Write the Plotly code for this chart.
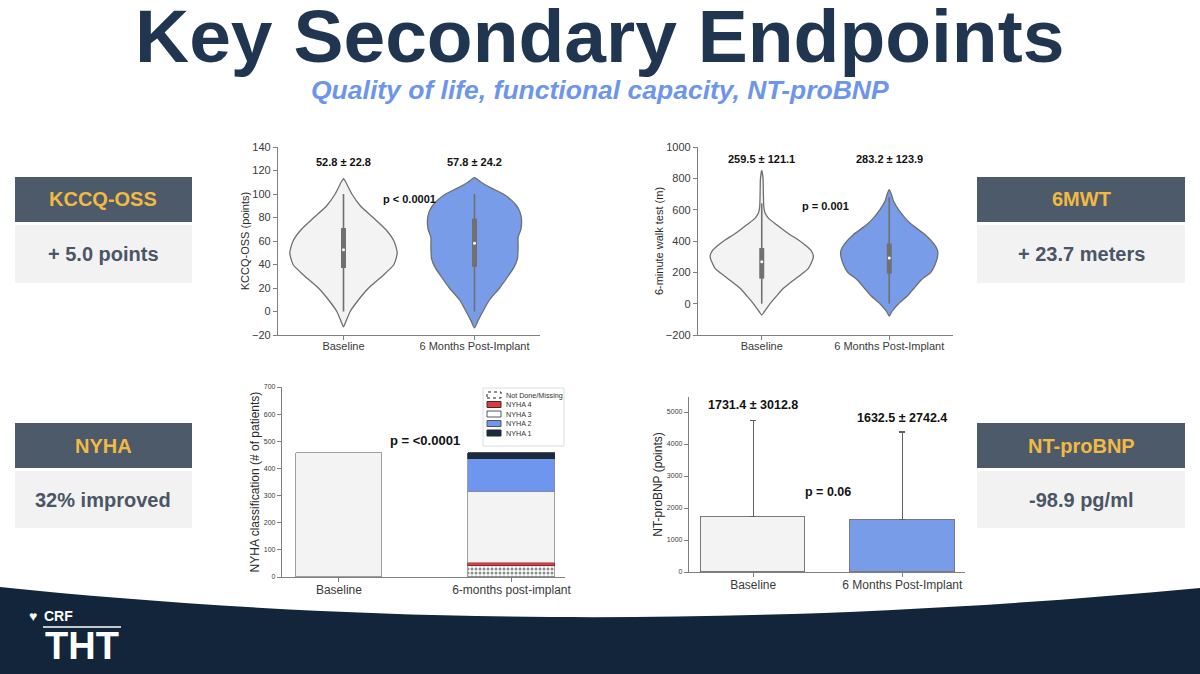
import plotly.graph_objects as go

W, H = 1200, 674
FONT = "Liberation Sans, Arial, sans-serif"

# ---------------- data ----------------
violin_labels = ["Baseline", "6 Months Post-Implant"]
nyha_labels = ["Baseline", "6-months post-implant"]
bnp_labels = ["Baseline", "6 Months Post-Implant"]

# KCCQ-OSS violin outlines (value, half-width as fraction of category spacing)
kccq_base_y = [-13, -10, 0, 10, 20, 30, 40, 50, 60, 70, 80, 90, 100, 110, 113]
kccq_base_hw = [0, .013, .051, .115, .192, .295, .385, .41, .385, .321, .226, .128, .064, .018, 0]
kccq_post_y = [-14, -8, 0, 10, 20, 30, 38, 45, 55, 63, 70, 78, 85, 90, 95, 100, 105, 110, 114]
kccq_post_hw = [0, .026, .064, .115, .192, .256, .303, .328, .333, .333, .354, .359, .346, .321, .28, .22, .13, .05, 0]
kccq_q1 = [37, 38]
kccq_med = [52.5, 58]
kccq_q3 = [71, 79]
kccq_lo = [0, 0]
kccq_hi = [100, 100]
kccq_stats = ["52.8 ± 22.8", "57.8 ± 24.2"]
kccq_p = "p < 0.0001"

# 6MWT violin outlines
smwt_base_y = [-73, -50, -20, 13, 50, 98, 141, 173, 225, 300, 340, 375, 410, 440, 470, 503, 546, 578, 620, 700, 800, 850]
smwt_base_hw = [0, .021, .047, .078, .117, .170, .235, .287, .366, .405, .386, .339, .282, .222, .170, .117, .052, .026, .016, .013, .010, 0]
smwt_post_y = [-80, -50, 0, 50, 100, 150, 200, 250, 300, 340, 380, 440, 503, 546, 600, 653, 700, 728]
smwt_post_hw = [0, .021, .073, .144, .196, .248, .326, .360, .379, .379, .352, .282, .178, .125, .073, .034, .016, 0]
smwt_q1 = [160, 192]
smwt_med = [268, 292]
smwt_q3 = [355, 384]
smwt_lo = [0, 0]
smwt_hi = [640, 680]
smwt_stats = ["259.5 ± 121.1", "283.2 ± 123.9"]
smwt_p = "p = 0.001"

# NYHA stacked counts
nyha_series = ["Not Done/Missing", "NYHA 4", "NYHA 3", "NYHA 2", "NYHA 1"]
nyha_missing = [None, 42]
nyha_4 = [None, 11]
nyha_3 = [457, 259]
nyha_2 = [None, 123]
nyha_1 = [None, 22]
nyha_p = "p = <0.0001"

# NT-proBNP
bnp_mean = [1731.4, 1632.5]
bnp_sd = [3012.8, 2742.4]
bnp_stats = ["1731.4 ± 3012.8", "1632.5 ± 2742.4"]
bnp_p = "p = 0.06"

# Side panels
panel_titles = ["KCCQ-OSS", "6MWT", "NYHA", "NT-proBNP"]
panel_values = ["+ 5.0 points", "+ 23.7 meters", "32% improved", "-98.9 pg/ml"]

# ---------------- style ----------------
GRAY_FILL = "#f3f3f3"
BLUE_FILL = "#789ce8"
OUTLINE = "#6f6f6f"
AXIS = "#808080"
TICKC = "#3a3a3a"
NAVY = "#1f3550"


def px(x):
    return x / W


def py(y):
    return 1 - y / H


fig = go.Figure()


def add_violin(xa, ya, pos, ys, hws, fill):
    xs = [pos + w for w in hws] + [pos - w for w in reversed(hws[:-1])]
    yy = list(ys) + list(reversed(ys[:-1]))
    fig.add_trace(go.Scatter(x=xs, y=yy, xaxis=xa, yaxis=ya, mode="lines", fill="toself",
                             fillcolor=fill, line=dict(color=OUTLINE, width=1.3, shape="spline", smoothing=0.6),
                             showlegend=False, hoverinfo="skip"))


def add_box(xa, ya, pos, q1, med, q3, lo, hi):
    fig.add_trace(go.Scatter(x=[pos, pos], y=[lo, hi], xaxis=xa, yaxis=ya, mode="lines",
                             line=dict(color="#707070", width=1.6), showlegend=False, hoverinfo="skip"))
    fig.add_trace(go.Scatter(x=[pos, pos], y=[q1, q3], xaxis=xa, yaxis=ya, mode="lines",
                             line=dict(color="#707070", width=5), showlegend=False, hoverinfo="skip"))
    fig.add_trace(go.Scatter(x=[pos], y=[med], xaxis=xa, yaxis=ya, mode="markers",
                             marker=dict(color="white", size=3), showlegend=False, hoverinfo="skip"))


# Chart 1: KCCQ
add_violin("x", "y", 0, kccq_base_y, kccq_base_hw, GRAY_FILL)
add_violin("x", "y", 1, kccq_post_y, kccq_post_hw, BLUE_FILL)
for i in range(2):
    add_box("x", "y", i, kccq_q1[i], kccq_med[i], kccq_q3[i], kccq_lo[i], kccq_hi[i])

# Chart 2: 6MWT
add_violin("x2", "y2", 0, smwt_base_y, smwt_base_hw, GRAY_FILL)
add_violin("x2", "y2", 1, smwt_post_y, smwt_post_hw, BLUE_FILL)
for i in range(2):
    add_box("x2", "y2", i, smwt_q1[i], smwt_med[i], smwt_q3[i], smwt_lo[i], smwt_hi[i])

# Chart 3: NYHA stacked bars
nyha_values = [nyha_missing, nyha_4, nyha_3, nyha_2, nyha_1]
nyha_colors = ["white", "#e0393e", GRAY_FILL, "#6f96ee", "#1b2a3d"]
nyha_edges = ["#8a8a8a", "#7a2a2a", "#8a8a8a", "#8a8a8a", "#1b2a3d"]
for name, vals, col, edge in zip(nyha_series, nyha_values, nyha_colors, nyha_edges):
    marker = dict(color=col, line=dict(color=edge, width=0.8))
    if name == "Not Done/Missing":
        marker["pattern"] = dict(shape=".", fgcolor="#1a1a1a", bgcolor="white", size=4, solidity=0.45)
    fig.add_trace(go.Bar(x=[0, 1], y=vals, name=name, xaxis="x3", yaxis="y3", width=0.5,
                         marker=marker, showlegend=False, hoverinfo="skip"))

# Chart 4: NT-proBNP bars
fig.add_trace(go.Bar(x=[0, 1], y=bnp_mean, xaxis="x4", yaxis="y4", width=0.7,
                     marker=dict(color=[GRAY_FILL, BLUE_FILL], line=dict(color="#7a7a7a", width=1.2)),
                     error_y=dict(type="data", symmetric=False, array=bnp_sd, arrayminus=[0, 0],
                                  color="#606060", thickness=1.2, width=3),
                     showlegend=False, hoverinfo="skip"))

# ---------------- axes ----------------
def xax(dom, rng, labels, size):
    return dict(domain=[px(dom[0]), px(dom[1])], range=rng, tickvals=[0, 1], ticktext=labels,
                showline=True, linecolor=AXIS, linewidth=1.3, ticks="outside", ticklen=4,
                tickcolor=AXIS, showgrid=False, zeroline=False, automargin=False,
                ticklabelstandoff=-3,
                tickfont=dict(family=FONT, size=size, color=TICKC), fixedrange=True)


def yax(dom, rng, dtick, title, tsize, ttsize, standoff):
    return dict(domain=[py(dom[0]), py(dom[1])], range=rng, dtick=dtick, tick0=0,
                showline=True, linecolor=AXIS, linewidth=1.3, ticks="outside", ticklen=4,
                tickcolor=AXIS, showgrid=False, zeroline=False, automargin=False,
                tickfont=dict(family=FONT, size=tsize, color=TICKC),
                title=dict(text=title, font=dict(family=FONT, size=ttsize, color="#2a2a2a"), standoff=standoff),
                fixedrange=True)


fig.update_layout(
    xaxis=xax((278, 540), [-0.5, 1.5], violin_labels, 11),
    yaxis=yax((335, 147), [-20, 140], 20, "KCCQ-OSS (points)", 11, 11, 0),
    xaxis2=dict(xax((698, 953), [-0.5, 1.5], violin_labels, 11), anchor="y2"),
    yaxis2=dict(yax((335, 147), [-200, 1000], 200, "6-minute walk test (m)", 11, 11, 0), anchor="x2"),
    xaxis3=dict(xax((282, 565), [-0.33, 1.31], nyha_labels, 12), anchor="y3"),
    yaxis3=dict(yax((577, 387), [0, 700], 100, "NYHA classification (# of patients)", 7, 12, 1), anchor="x3"),
    xaxis4=dict(xax((689, 965), [-0.43, 1.42], bnp_labels, 12), anchor="y4"),
    yaxis4=dict(yax((572, 397), [0, 5470], 1000, "NT-proBNP (points)", 7, 12, 1), anchor="x4"),
)

# ---------------- annotations ----------------
anns = []
shapes = []


def chart_text(xr, yr, x, y, text, size):
    anns.append(dict(xref=xr, yref=yr, x=x, y=y, text=text, showarrow=False,
                     font=dict(family=FONT, size=size, color="#111111", weight="bold")))


for i in range(2):
    chart_text("x", "y", i, 127, kccq_stats[i], 11)
    chart_text("x2", "y2", i, 925, smwt_stats[i], 11)
chart_text("x", "y", 0.5, 96, kccq_p, 11)
chart_text("x2", "y2", 0.5, 625, smwt_p, 11)
chart_text("x3", "y3", 0.5, 503, nyha_p, 13)
chart_text("x4", "y4", 0, 5220, bnp_stats[0], 12.5)
chart_text("x4", "y4", 1, 4814, bnp_stats[1], 12.5)
chart_text("x4", "y4", 0.5, 2500, bnp_p, 12.5)


def page_text(x, y, text, size, color, weight="bold", style="normal", xanchor="center"):
    anns.append(dict(xref="paper", yref="paper", x=px(x), y=py(y), text=text, showarrow=False,
                     xanchor=xanchor, yanchor="middle",
                     font=dict(family=FONT, size=size, color=color, weight=weight, style=style)))


def rect(x0, y0, x1, y1, fill, line=None, layer="below"):
    shapes.append(dict(type="rect", xref="paper", yref="paper", x0=px(x0), x1=px(x1),
                       y0=py(y1), y1=py(y0), fillcolor=fill,
                       line=line if line else dict(width=0), layer=layer))


page_text(599, 36, "Key Secondary Endpoints", 75, NAVY)
page_text(600, 90, "Quality of life, functional capacity, NT-proBNP", 26.5, "#6d95ea", style="italic")

# manual legend for NYHA chart
rect(483, 388, 564, 446, "white", dict(color="#dddddd", width=1), layer="above")
leg_y = [395, 404.5, 414, 423.5, 433]
leg_fill = ["white", "#e0393e", "white", "#6f96ee", "#1b2a3d"]
leg_line = [dict(color="#222222", width=1, dash="dot"), dict(color="#333333", width=1),
            dict(color="#555555", width=1), dict(color="#555555", width=1), dict(color="#1b2a3d", width=1)]
for name, yc, f, ln in zip(nyha_series, leg_y, leg_fill, leg_line):
    rect(487, yc - 3, 501, yc + 3, f, ln, layer="above")
    anns.append(dict(xref="paper", yref="paper", x=px(504), y=py(yc), text=name, showarrow=False,
                     xanchor="left", yanchor="middle",
                     font=dict(family=FONT, size=7.2, color="#333333")))

box_specs = [((15, 192), (177, 222), (225, 283)), ((977, 1185), (177, 222), (225, 283)),
             ((15, 192), (423, 468), (471, 528)), ((977, 1185), (423, 468), (471, 528))]
for (xs, hy, vy), title, val in zip(box_specs, panel_titles, panel_values):
    rect(xs[0], hy[0], xs[1], hy[1], "#4c5a6a")
    rect(xs[0], vy[0], xs[1], vy[1], "#f2f2f2")
    cx = (xs[0] + xs[1]) / 2
    page_text(cx, (hy[0] + hy[1]) / 2, title, 20, "#f2b943")
    page_text(cx, (vy[0] + vy[1]) / 2, val, 20, "#4a5566")


# footer band
def P(x, y):
    return f"{px(x):.5f},{py(y):.5f}"


footer = (f"M {P(0, 587)} C {P(300, 618)} {P(700, 635)} {P(1200, 588)} "
          f"L {P(1200, 674)} L {P(0, 674)} Z")
shapes.append(dict(type="path", xref="paper", yref="paper", path=footer,
                   fillcolor="#13253a", line=dict(width=0), layer="below"))
shapes.append(dict(type="line", xref="paper", yref="paper", x0=px(43), x1=px(121), y0=py(627), y1=py(627),
                   line=dict(color="white", width=1.5)))

page_text(33, 616, "♥", 14, "white", weight="normal")
page_text(42, 616, "CRF", 14, "white", xanchor="left")
page_text(82, 646, "THT", 38, "white")

fig.update_layout(
    width=W, height=H, autosize=False, margin=dict(l=0, r=0, t=0, b=0, pad=0, autoexpand=False),
    paper_bgcolor="white", plot_bgcolor="white",
    barmode="stack", bargap=0, showlegend=False,
    annotations=anns, shapes=shapes,
    font=dict(family=FONT),
)

fig.write_html("out.html", config={"responsive": False, "displayModeBar": False},
               post_script="document.body.style.margin='0';document.body.style.overflow='hidden';"
                           "document.documentElement.style.overflow='hidden';")
